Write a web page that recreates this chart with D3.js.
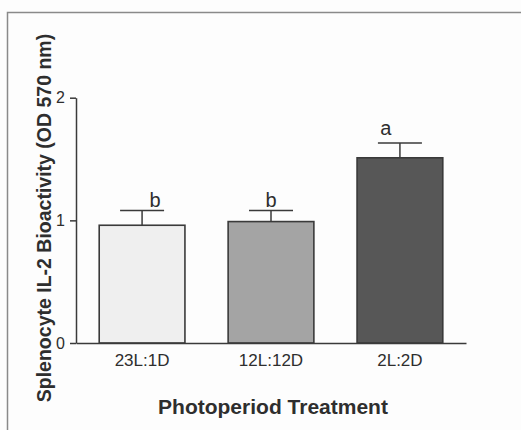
<!DOCTYPE html>
<html>
<head>
<meta charset="utf-8">
<script src="https://cdn.jsdelivr.net/npm/d3@7"></script>
<style>
  html, body { margin: 0; padding: 0; background: #fdfdfd; }
  svg { display: block; }
  text { font-family: "Liberation Sans", Arial, sans-serif; }
</style>
</head>
<body>
<svg id="chart" width="521" height="430"></svg>
<script>
// ---- data ----
const categories = ["23L:1D", "12L:12D", "2L:2D"];
const values = [0.96, 0.99, 1.51];
const errors = [0.12, 0.09, 0.12];
const sigLetters = ["b", "b", "a"];
const yTicks = [0, 1, 2];
const xTitle = "Photoperiod Treatment";
const yTitle = "Splenocyte IL-2 Bioactivity (OD 570 nm)";

// ---- style / layout ----
const fills = ["#efefef", "#a4a4a4", "#575757"];
const letterDx = [13, 0, -14];
const letterGap = [4, 4, 8];

const svg = d3.select("#chart");
svg.append("rect").attr("width", 521).attr("height", 430).attr("fill", "#fdfdfd");

// scan frame
svg.append("path")
  .attr("d", "M7.5,430 L7.5,12.5 L521,12.5")
  .attr("fill", "none").attr("stroke", "#8a8a8a").attr("stroke-width", 1.5);

const x = d3.scaleBand().domain(categories).range([76, 466])
  .paddingInner(0.335).paddingOuter(0.18);
const y = d3.scaleLinear().domain([0, 2]).range([343, 97.7]);

const ink = "#3a3a3a";
const txt = "#2e2e2e";

// bars
svg.append("g").selectAll("rect").data(categories).join("rect")
  .attr("x", d => x(d))
  .attr("y", (d, i) => y(values[i]))
  .attr("width", x.bandwidth())
  .attr("height", (d, i) => y(0) - y(values[i]))
  .attr("fill", (d, i) => fills[i])
  .attr("stroke", ink).attr("stroke-width", 1.6);

// error bars
const eb = svg.append("g").attr("stroke", ink).attr("stroke-width", 1.5);
categories.forEach((c, i) => {
  const cx = x(c) + x.bandwidth() / 2;
  eb.append("line").attr("x1", cx).attr("x2", cx)
    .attr("y1", y(values[i])).attr("y2", y(values[i] + errors[i]));
  eb.append("line").attr("x1", cx - 22).attr("x2", cx + 22)
    .attr("y1", y(values[i] + errors[i])).attr("y2", y(values[i] + errors[i]));
});

// significance letters
svg.append("g").selectAll("text").data(sigLetters).join("text")
  .attr("x", (d, i) => x(categories[i]) + x.bandwidth() / 2 + letterDx[i])
  .attr("y", (d, i) => y(values[i] + errors[i]) - letterGap[i])
  .attr("text-anchor", "middle")
  .attr("font-size", 20).attr("fill", txt)
  .text(d => d);

// y axis
const yAxis = svg.append("g").attr("transform", "translate(76,0)")
  .call(d3.axisLeft(y).tickValues(yTicks).tickFormat(d3.format("d")).tickSize(6).tickSizeOuter(0).tickPadding(5));
yAxis.select(".domain").attr("stroke", ink).attr("stroke-width", 1.5);
yAxis.selectAll(".tick line").attr("stroke", ink).attr("stroke-width", 1.5);
yAxis.selectAll(".tick text").attr("font-size", 16).attr("fill", txt)
  .attr("font-family", "'Liberation Sans', Arial, sans-serif");

// x axis
const xAxis = svg.append("g").attr("transform", "translate(0,343)")
  .call(d3.axisBottom(x).tickSize(0).tickSizeOuter(0).tickPadding(11));
xAxis.select(".domain").attr("stroke", ink).attr("stroke-width", 1.5);
xAxis.selectAll(".tick text").attr("font-size", 17).attr("fill", txt)
  .attr("font-family", "'Liberation Sans', Arial, sans-serif");

// titles
svg.append("text")
  .attr("x", 273).attr("y", 414)
  .attr("text-anchor", "middle")
  .attr("font-size", 21).attr("font-weight", "bold").attr("fill", txt)
  .text(xTitle);

svg.append("text")
  .attr("transform", "translate(51,218) rotate(-90)")
  .attr("text-anchor", "middle")
  .attr("font-size", 19.5).attr("font-weight", "bold").attr("fill", txt)
  .text(yTitle);
</script>
</body>
</html>
